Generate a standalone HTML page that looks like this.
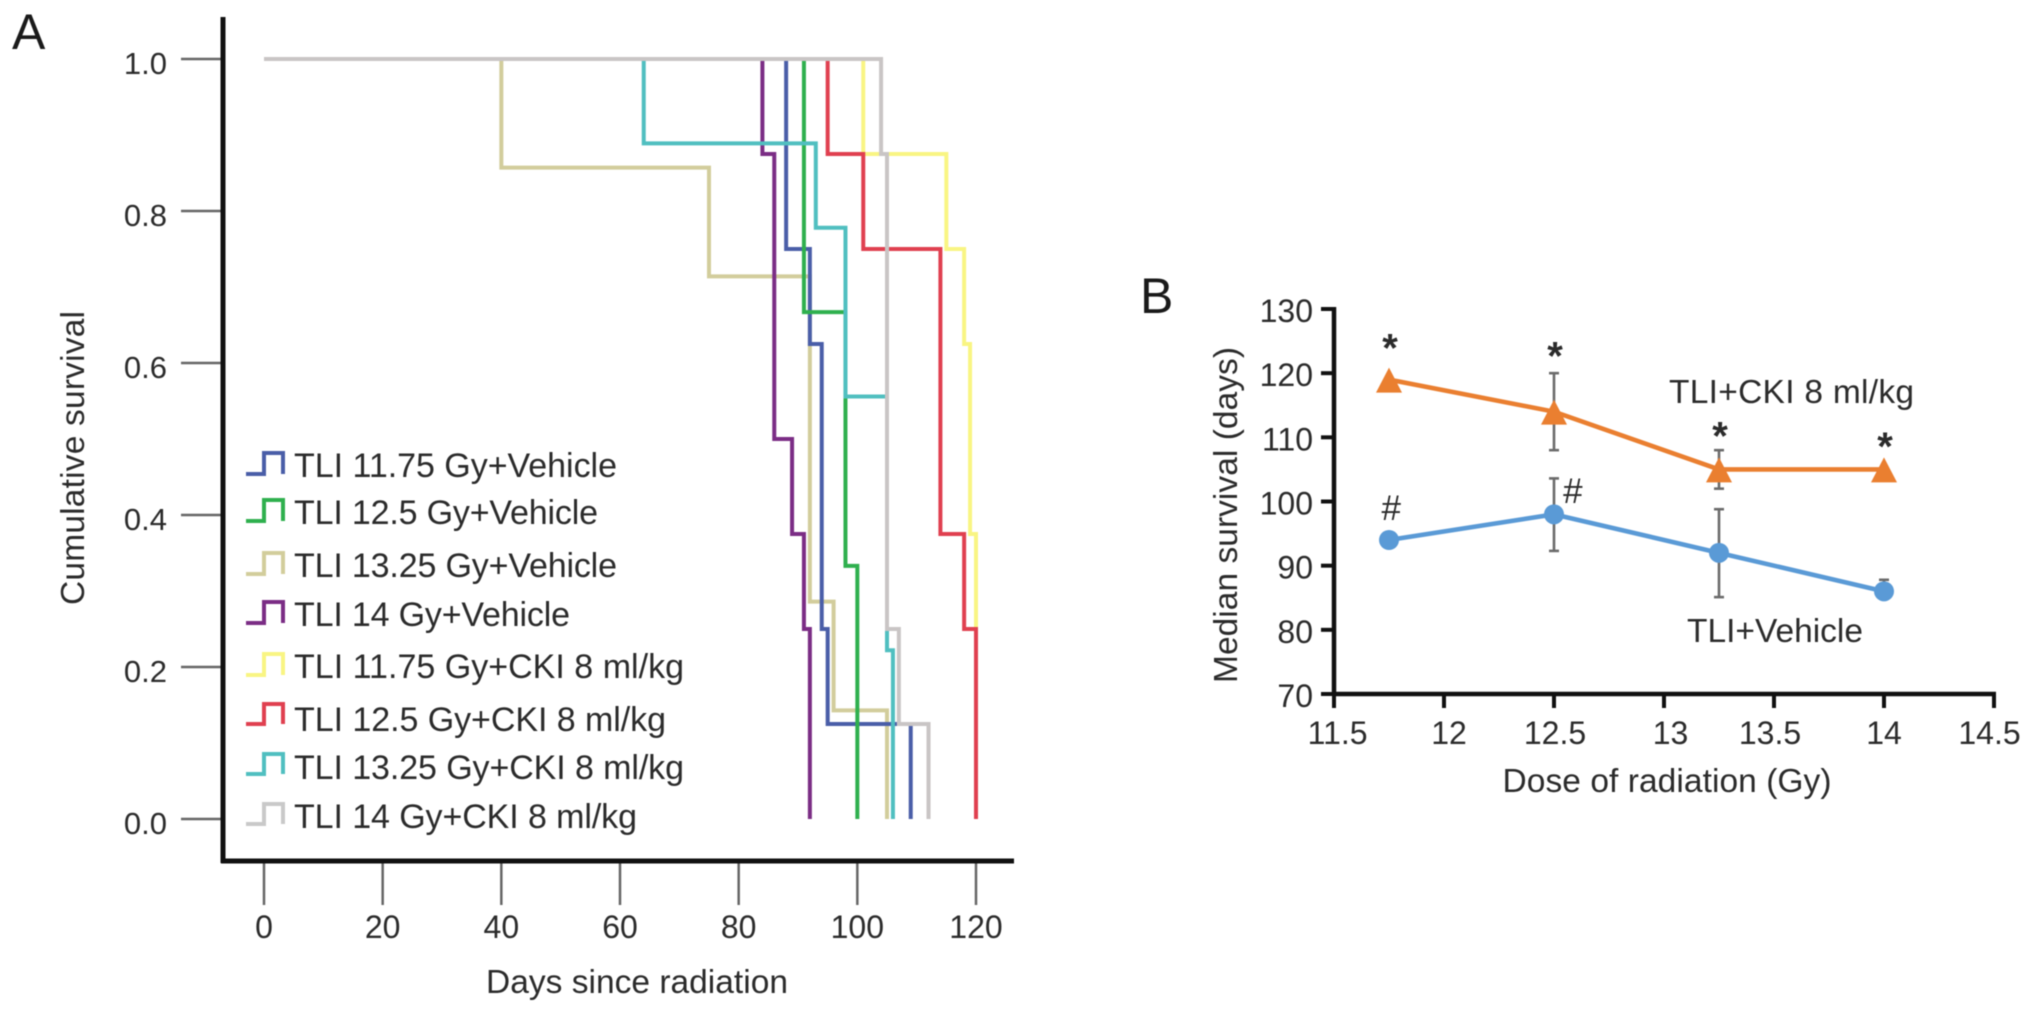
<!DOCTYPE html>
<html lang="en">
<head>
<meta charset="utf-8">
<title>Survival after total lymphoid irradiation</title>
<style>
  html, body { margin: 0; padding: 0; background: #fff; }
  #figure { display: block; filter: blur(0.6px); }
  text { font-family: "Liberation Sans", sans-serif; fill: #2b2b2b; }
</style>
</head>
<body>
<svg id="figure" xmlns="http://www.w3.org/2000/svg" width="2032" height="1012" viewBox="0 0 2032 1012">
  <rect x="0" y="0" width="2032" height="1012" fill="#ffffff"/>

  <text x="12" y="49" font-size="50" style="fill:#1a1a1a">A</text>
  <text x="1140" y="313" font-size="50" style="fill:#1a1a1a">B</text>

  <g id="panelA"></g>

  <text transform="translate(84 458) rotate(-90)" text-anchor="middle" font-size="33.5" textLength="294">Cumulative survival</text>
  <text x="637" y="993" text-anchor="middle" font-size="33.5" textLength="302">Days since radiation</text>

  <g font-size="34">
    <g>
      <path d="M246 474H264V453H283V474" fill="none" stroke="#4a5ea8" stroke-width="4"/>
      <text x="294" y="477" textLength="323">TLI 11.75 Gy+Vehicle</text>
    </g>
    <g>
      <path d="M246 521H264V500H283V521" fill="none" stroke="#2fb04e" stroke-width="4"/>
      <text x="294" y="524" textLength="304">TLI 12.5 Gy+Vehicle</text>
    </g>
    <g>
      <path d="M246 574H264V553H283V574" fill="none" stroke="#d2cd9c" stroke-width="4"/>
      <text x="294" y="577" textLength="323">TLI 13.25 Gy+Vehicle</text>
    </g>
    <g>
      <path d="M246 623H264V602H283V623" fill="none" stroke="#7b2d85" stroke-width="4"/>
      <text x="294" y="626" textLength="276">TLI 14 Gy+Vehicle</text>
    </g>
    <g>
      <path d="M246 675H264V654H283V675" fill="none" stroke="#f9f583" stroke-width="4"/>
      <text x="294" y="678" textLength="390">TLI 11.75 Gy+CKI 8 ml/kg</text>
    </g>
    <g>
      <path d="M246 724H264V704H283V724" fill="none" stroke="#e04050" stroke-width="4"/>
      <text x="294" y="731" textLength="372">TLI 12.5 Gy+CKI 8 ml/kg</text>
    </g>
    <g>
      <path d="M246 774H264V754H283V774" fill="none" stroke="#50bfc0" stroke-width="4"/>
      <text x="294" y="779" textLength="390">TLI 13.25 Gy+CKI 8 ml/kg</text>
    </g>
    <g>
      <path d="M246 824H264V804H283V824" fill="none" stroke="#c9c9c9" stroke-width="4"/>
      <text x="294" y="828" textLength="343">TLI 14 Gy+CKI 8 ml/kg</text>
    </g>
  </g>

  <g id="panelB"></g>

  <text transform="translate(1237 515) rotate(-90)" text-anchor="middle" font-size="33.5" textLength="336">Median survival (days)</text>
  <text x="1667" y="792" text-anchor="middle" font-size="33.5" textLength="329">Dose of radiation (Gy)</text>
  <text x="1669" y="403" font-size="33.5" textLength="245">TLI+CKI 8 ml/kg</text>
  <text x="1687" y="642" font-size="33.5" textLength="176">TLI+Vehicle</text>
</svg>

<script>
// ---- Panel A data ----
const survivalTickLabels = ["0.0", "0.2", "0.4", "0.6", "0.8", "1.0"];
const survivalTicks = [0, 0.2, 0.4, 0.6, 0.8, 1];
const dayTicks = [0, 20, 40, 60, 80, 100, 120];
const kmGroups = ["11-75-vehicle", "12-5-vehicle", "13-25-vehicle", "14-vehicle", "11-75-cki", "12-5-cki", "13-25-cki", "14-cki"];
const days1175Vehicle = [88, 92, 94, 95, 109];
const surv1175Vehicle = [0.75, 0.625, 0.25, 0.125, 0];
const days125Vehicle = [91, 98, 100];
const surv125Vehicle = [0.667, 0.333, 0];
const days1325Vehicle = [40, 75, 92, 96, 105];
const surv1325Vehicle = [0.857, 0.714, 0.286, 0.143, 0];
const days14Vehicle = [84, 86, 89, 91, 92];
const surv14Vehicle = [0.875, 0.5, 0.375, 0.25, 0];
const days1175Cki = [101, 115, 118, 119, 120, 120];
const surv1175Cki = [0.875, 0.75, 0.625, 0.375, 0.25, 0];
const days125Cki = [95, 101, 114, 118, 120];
const surv125Cki = [0.875, 0.75, 0.375, 0.25, 0];
const days1325Cki = [64, 93, 98, 105, 106];
const surv1325Cki = [0.889, 0.778, 0.556, 0.222, 0];
const days14Cki = [104, 105, 107, 112];
const surv14Cki = [0.875, 0.25, 0.125, 0];

// ---- Panel B data ----
const doseTicks = [11.5, 12, 12.5, 13, 13.5, 14, 14.5];
const doseTickLabels = ["11.5", "12", "12.5", "13", "13.5", "14", "14.5"];
const medianTicks = [70, 80, 90, 100, 110, 120, 130];
const doses = [11.75, 12.5, 13.25, 14];
const medianCki = [119, 114, 105, 105];
const ckiErrUpper = [119, 120, 108, 105];
const ckiErrLower = [119, 108, 102, 105];
const medianVehicle = [94, 98, 92, 86];
const vehicleErrUpper = [94, 103.6, 98.8, 87.8];
const vehicleErrLower = [94, 92.3, 85.1, 86];
const starValues = [125.7, 124.5, 112, 110.4];
const hashValues = [97.1, 99.8];
const hashDoses = [11.76, 12.586];

// ---- Draw order and colours ----
const kmDays = [days1175Vehicle, days125Vehicle, days1325Vehicle, days14Vehicle, days1175Cki, days125Cki, days1325Cki, days14Cki];
const kmSurv = [surv1175Vehicle, surv125Vehicle, surv1325Vehicle, surv14Vehicle, surv1175Cki, surv125Cki, surv1325Cki, surv14Cki];
const kmColors = ["#4a5ea8", "#2fb04e", "#d2cd9c", "#7b2d85", "#f9f583", "#e04050", "#50bfc0", "#c9c5c5"];
const kmOrder = [4, 2, 0, 1, 3, 5, 6, 7];
const doseLabelNudge = [3.6, 5, 1, 6.5, -4, 0, -4.5];

const NS = "http://www.w3.org/2000/svg";
function mk(tag, attrs, parent) {
  const el = document.createElementNS(NS, tag);
  for (const k in attrs) el.setAttribute(k, attrs[k]);
  parent.appendChild(el);
  return el;
}

// ---- Panel A axes ----
const panelA = document.getElementById("panelA");
const xDay = d => 264 + d * (976 - 264) / 120;
const ySurv = s => 819 - s * 760;

survivalTicks.forEach((t, i) => {
  const tick = mk("line", { x1: 181, x2: 223, y1: ySurv(t), y2: ySurv(t), stroke: "#666666", "stroke-width": 2.5 }, panelA);
  
  
  const label = mk("text", { x: 167, y: ySurv(t) + 15, "text-anchor": "end", "font-size": 31 }, panelA);
  label.textContent = survivalTickLabels[i];
  
  
});
dayTicks.forEach(t => {
  const tick = mk("line", { x1: xDay(t), x2: xDay(t), y1: 861, y2: 905, stroke: "#666666", "stroke-width": 2.5 }, panelA);
  
  
  const label = mk("text", { x: xDay(t), y: 938, "text-anchor": "middle", "font-size": 32 }, panelA);
  label.textContent = String(t);
  
  
});
const axisAY = mk("line", { x1: 223, x2: 223, y1: 17, y2: 863, stroke: "#111111", "stroke-width": 5 }, panelA);


const axisAX = mk("line", { x1: 221, x2: 1014, y1: 861, y2: 861, stroke: "#111111", "stroke-width": 5 }, panelA);



// ---- Panel A survival curves ----
kmOrder.forEach(idx => {
  let d = "M" + xDay(0) + " " + ySurv(1);
  kmDays[idx].forEach((day, j) => {
    d += "H" + xDay(day) + "V" + ySurv(kmSurv[idx][j]);
  });
  const curve = mk("path", { d: d, fill: "none", stroke: kmColors[idx], "stroke-width": 4, "stroke-linejoin": "miter" }, panelA);
  
  
});

// ---- Panel B axes ----
const panelB = document.getElementById("panelB");
const xDose = v => 1334 + (v - 11.5) * (1994 - 1334) / 3;
const yMedian = v => 694 - (v - 70) * (694 - 309) / 60;

medianTicks.forEach(t => {
  const tick = mk("line", { x1: 1321, x2: 1334, y1: yMedian(t), y2: yMedian(t), stroke: "#111111", "stroke-width": 4 }, panelB);
  
  
  const label = mk("text", { x: 1313, y: yMedian(t) + 13, "text-anchor": "end", "font-size": 32 }, panelB);
  label.textContent = String(t);
  
  
});
doseTicks.forEach((t, i) => {
  const tick = mk("line", { x1: xDose(t), x2: xDose(t), y1: 694, y2: 708, stroke: "#111111", "stroke-width": 4 }, panelB);
  
  
  const label = mk("text", { x: xDose(t) + doseLabelNudge[i], y: 744, "text-anchor": "middle", "font-size": 32 }, panelB);
  label.textContent = doseTickLabels[i];
  
  
});
const axisBY = mk("line", { x1: 1334, x2: 1334, y1: 307, y2: 696, stroke: "#111111", "stroke-width": 4.5 }, panelB);


const axisBX = mk("line", { x1: 1332, x2: 1996, y1: 694, y2: 694, stroke: "#111111", "stroke-width": 4.5 }, panelB);



// ---- Panel B error bars ----
function errorBar(dose, upper, lower, parent) {
  const g = mk("g", { stroke: "#6b6b6b", "stroke-width": 2.6 }, parent);
  mk("line", { x1: xDose(dose), x2: xDose(dose), y1: yMedian(upper), y2: yMedian(lower) }, g);
  mk("line", { x1: xDose(dose) - 5, x2: xDose(dose) + 5, y1: yMedian(upper), y2: yMedian(upper) }, g);
  mk("line", { x1: xDose(dose) - 5, x2: xDose(dose) + 5, y1: yMedian(lower), y2: yMedian(lower) }, g);
  return g;
}
doses.forEach((dose, i) => {
  if (ckiErrUpper[i] !== ckiErrLower[i]) {
    const bar = errorBar(dose, ckiErrUpper[i], ckiErrLower[i], panelB);
    
    
  }
  if (vehicleErrUpper[i] !== vehicleErrLower[i]) {
    const bar = errorBar(dose, vehicleErrUpper[i], vehicleErrLower[i], panelB);
    
    
  }
});

// ---- Panel B lines and markers ----
const pointsOf = values => doses.map((dose, i) => xDose(dose) + "," + yMedian(values[i])).join(" ");
const ckiLine = mk("polyline", { points: pointsOf(medianCki), fill: "none", stroke: "#ea7f30", "stroke-width": 4.6 }, panelB);


const vehicleLine = mk("polyline", { points: pointsOf(medianVehicle), fill: "none", stroke: "#5a9ad6", "stroke-width": 4.6 }, panelB);



doses.forEach((dose, i) => {
  const cx = xDose(dose);
  const cy = yMedian(medianCki[i]);
  const tri = mk("polygon", { points: cx + "," + (cy - 12) + " " + (cx + 13) + "," + (cy + 13) + " " + (cx - 13) + "," + (cy + 13), fill: "#ea7f30" }, panelB);
  
  
  const dot = mk("circle", { cx: cx, cy: yMedian(medianVehicle[i]), r: 10, fill: "#5a9ad6" }, panelB);
  
  
  const star = mk("text", { x: cx + 1, y: yMedian(starValues[i]) + 25, "text-anchor": "middle", "font-size": 40, "font-weight": "bold" }, panelB);
  star.textContent = "*";
  
  
});
hashValues.forEach((v, i) => {
  const hash = mk("text", { x: xDose(hashDoses[i]), y: yMedian(v), "text-anchor": "middle", "font-size": 35 }, panelB);
  hash.textContent = "#";
  
  
});
</script>
</body>
</html>
